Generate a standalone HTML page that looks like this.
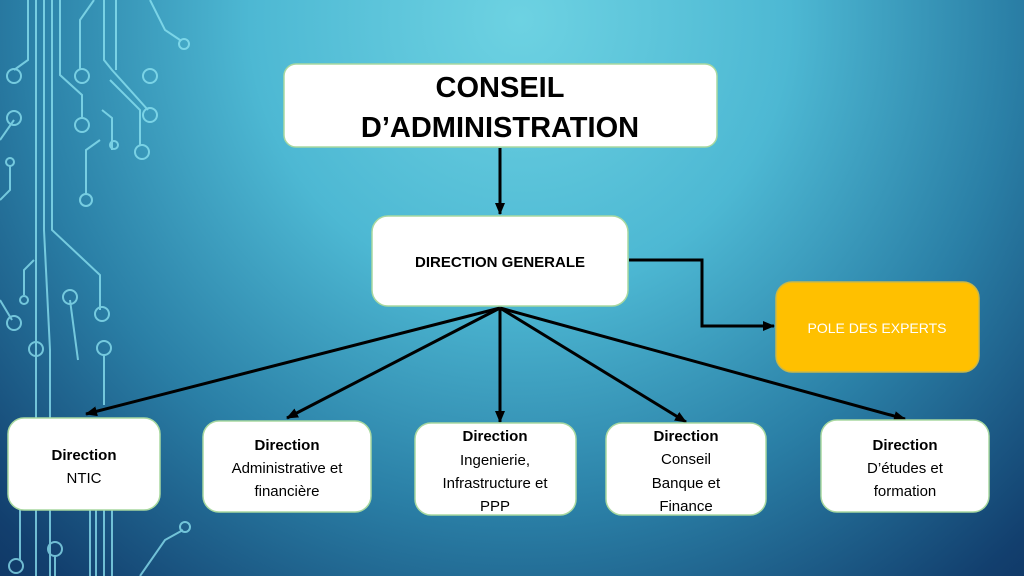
<!DOCTYPE html>
<html><head><meta charset="utf-8"><style>
html,body{margin:0;padding:0;width:1024px;height:576px;overflow:hidden}
svg{display:block}
text{font-family:"Liberation Sans",sans-serif}
</style></head><body>
<svg width="1024" height="576" viewBox="0 0 1024 576" xmlns="http://www.w3.org/2000/svg">
<defs>
<radialGradient id="bg" cx="520" cy="20" r="900" gradientUnits="userSpaceOnUse">
<stop offset="0" stop-color="#6dd2e2"/>
<stop offset="0.3" stop-color="#4db8d3"/>
<stop offset="0.55" stop-color="#2a7fa6"/>
<stop offset="0.8" stop-color="#123f6e"/>
<stop offset="1" stop-color="#0a2450"/>
</radialGradient>
<marker id="ah" markerWidth="12" markerHeight="10" refX="11" refY="5" orient="auto" markerUnits="userSpaceOnUse" viewBox="0 0 12 10">
<path d="M0,0 L12,5 L0,10 z" fill="#000"/>
</marker>
</defs>
<rect width="1024" height="576" fill="url(#bg)"/>
<g stroke="#8fe6f4" stroke-width="2" fill="none" opacity="0.75">
<path d="M28 0 V60 L14 70"/><circle cx="14" cy="76" r="7"/>
<path d="M36 0 V576"/><path d="M44 0 V230 L50 350 V576"/>
<path d="M52 0 V230 L100 275 V310"/><circle cx="102" cy="314" r="7"/>
<path d="M60 0 V75 L82 95 V118"/><circle cx="82" cy="125" r="7"/>
<path d="M94 0 L80 20 V70"/><circle cx="82" cy="76" r="7"/>
<path d="M104 0 V60 L112 70 L148 110"/><circle cx="150" cy="115" r="7"/>
<path d="M116 0 V70"/><circle cx="150" cy="76" r="7"/>
<path d="M110 80 L140 110 L140 145"/><circle cx="142" cy="152" r="7"/>
<path d="M102 110 L112 118 V150"/><circle cx="114" cy="145" r="4"/>
<path d="M100 140 L86 150 V195"/><circle cx="86" cy="200" r="6"/>
<path d="M150 0 L165 30 L180 40"/><circle cx="184" cy="44" r="5"/>
<path d="M14 120 L0 140"/><circle cx="14" cy="118" r="7"/>
<path d="M10 165 V190 L0 200"/><circle cx="10" cy="162" r="4"/>
<path d="M34 260 L24 270 V295"/><circle cx="24" cy="300" r="4"/>
<path d="M0 300 L12 320"/><circle cx="14" cy="323" r="7"/>
<path d="M70 300 L78 360"/><circle cx="70" cy="297" r="7"/><circle cx="36" cy="349" r="7"/>
<circle cx="104" cy="348" r="7"/><path d="M104 355 V405"/>
<path d="M20 510 V560"/><circle cx="16" cy="566" r="7"/>
<circle cx="55" cy="549" r="7"/><path d="M55 556 V576"/>
<path d="M90 510 V576 M96 510 V576 M104 510 V576 M112 510 V576"/>
<path d="M140 576 L165 540 L183 530"/><circle cx="185" cy="527" r="5"/>
</g>
<g stroke="#000" stroke-width="3" fill="none">
<path d="M500 148 V214" marker-end="url(#ah)"/>
<path d="M629 260 H702 V326 H774" marker-end="url(#ah)"/>
<path d="M500 308 L86 414" marker-end="url(#ah)"/>
<path d="M500 308 L287 418" marker-end="url(#ah)"/>
<path d="M500 308 V422" marker-end="url(#ah)"/>
<path d="M500 308 L686 422" marker-end="url(#ah)"/>
<path d="M500 308 L905 419" marker-end="url(#ah)"/>
</g>
<g stroke="#a8d8a0" stroke-width="1.5" fill="#fff">
<rect x="284" y="64" width="433" height="83" rx="12"/>
<rect x="372" y="216" width="256" height="90" rx="16"/>
<rect x="8" y="418" width="152" height="92" rx="16"/>
<rect x="203" y="421" width="168" height="91" rx="16"/>
<rect x="415" y="423" width="161" height="92" rx="16"/>
<rect x="606" y="423" width="160" height="92" rx="16"/>
<rect x="821" y="420" width="168" height="92" rx="16"/>
</g>
<rect x="776" y="282" width="203" height="90" rx="16" fill="#ffc000" stroke="#c9b84a" stroke-width="1.5"/>
<g text-anchor="middle" fill="#000">
<text x="500" y="97" font-size="29" font-weight="bold">CONSEIL</text>
<text x="500" y="137" font-size="29" font-weight="bold">D’ADMINISTRATION</text>
<text x="500" y="267" font-size="15" font-weight="bold">DIRECTION GENERALE</text>
<text x="877" y="333" font-size="14" fill="#fff">POLE DES EXPERTS</text>
<g font-size="15">
<text x="84" y="460" font-weight="bold">Direction</text><text x="84" y="483">NTIC</text>
<text x="287" y="450" font-weight="bold">Direction</text><text x="287" y="473">Administrative et</text><text x="287" y="496">financière</text>
<text x="495" y="441" font-weight="bold">Direction</text><text x="495" y="465">Ingenierie,</text><text x="495" y="488">Infrastructure et</text><text x="495" y="511">PPP</text>
<text x="686" y="441" font-weight="bold">Direction</text><text x="686" y="464">Conseil</text><text x="686" y="488">Banque et</text><text x="686" y="511">Finance</text>
<text x="905" y="450" font-weight="bold">Direction</text><text x="905" y="473">D’études et</text><text x="905" y="496">formation</text>
</g>
</g>
</svg>
</body></html>
